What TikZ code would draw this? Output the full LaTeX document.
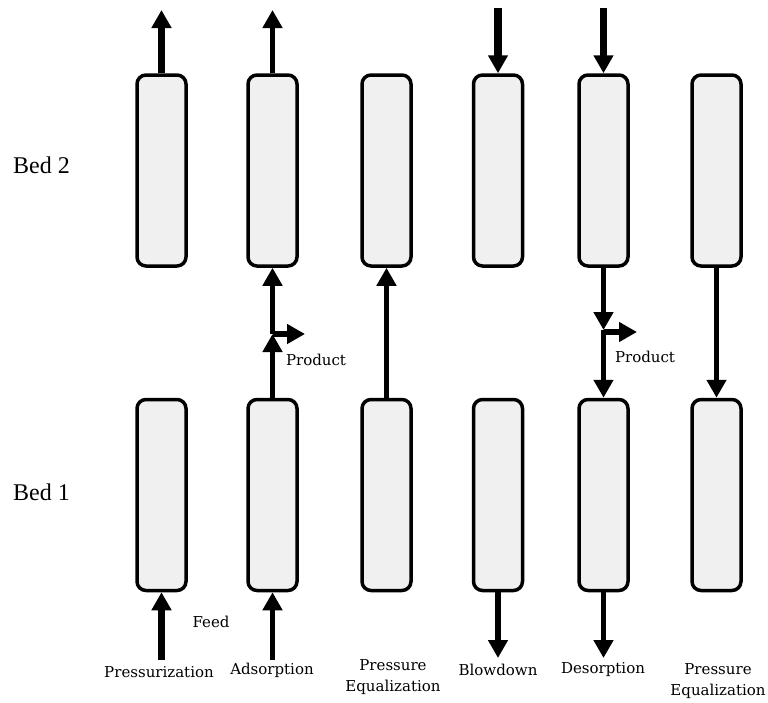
\documentclass[tikz,border=0pt]{standalone}
\usepackage{fontspec}
\setmainfont{Liberation Serif}
\newfontfamily\lblfont{DejaVu Serif}
\usetikzlibrary{arrows.meta}

\begin{document}
\begin{tikzpicture}[x=1pt,y=-1pt,
    bed node/.style={draw,line width=3.5pt,rounded corners=9pt,fill=black!6,minimum width=49pt,minimum height=191pt,inner sep=0pt},
    flow/.style={line width=5.5pt,-{Triangle[width=19pt,length=18pt]}},
    main flow/.style={flow,line width=7.5pt},
    stage label/.style={font=\lblfont\fontsize{15}{21}\selectfont,align=center,inner sep=0pt},
    bed label/.style={font=\fontsize{24}{28}\selectfont,anchor=west,inner sep=0pt}]
    \useasboundingbox (0,0) rectangle (768,702);

    % bed 2 (top row) and bed 1 (bottom row)
    \node[bed node] (t1) at (161.5,170.5) {};
    \node[bed node] (t2) at (272.5,170.5) {};
    \node[bed node] (t3) at (386.5,170.5) {};
    \node[bed node] (t4) at (498,170.5) {};
    \node[bed node] (t5) at (603.5,170.5) {};
    \node[bed node] (t6) at (716.5,170.5) {};
    \node[bed node] (b1) at (161.5,495) {};
    \node[bed node] (b2) at (272.5,495) {};
    \node[bed node] (b3) at (386.5,495) {};
    \node[bed node] (b4) at (498,495) {};
    \node[bed node] (b5) at (603.5,495) {};
    \node[bed node] (b6) at (716.5,495) {};

    \node[bed label] (bed2) at (13,165) {Bed 2};
    \node[bed label] (bed1) at (13,492) {Bed 1};

    % free ends
    \coordinate (o1) at (161.5,10);
    \coordinate (o2) at (272.5,10);
    \coordinate (i4) at (498,8);
    \coordinate (i5) at (603.5,8);
    \coordinate (m2) at (272.5,334);
    \coordinate (p2) at (305,334);
    \coordinate (m5) at (603.5,330);
    \coordinate (p5) at (637,332);
    \coordinate (f1) at (161.5,660);
    \coordinate (f2) at (272.5,660);
    \coordinate (w4) at (498,658);
    \coordinate (w5) at (603.5,658);

    \path
        (t1.north) edge[main flow] (o1)
        (t2.north) edge[flow] (o2)
        (i4) edge[main flow] (t4.north)
        (i5) edge[main flow] (t5.north)
        (b2.north) edge[flow] (m2)
        (m2) edge[flow] (t2.south)
        (m2) edge[flow] (p2)
        (b3.north) edge[flow] (t3.south)
        (t5.south) edge[flow] (m5)
        (m5) edge[flow] (b5.north)
        (603.5,332) edge[flow] (p5)
        (t6.south) edge[flow] (b6.north)
        (f1) edge[main flow] (b1.south)
        (f2) edge[flow] (b2.south)
        (b4.south) edge[flow] (w4)
        (b5.south) edge[flow] (w5)
        ;

    \node[stage label] (prod2) at (316,360) {Product};
    \node[stage label] (prod5) at (645,357) {Product};
    \node[stage label] (feed) at (211,622) {Feed};

    \node[stage label] (s1) at (159,672) {Pressurization};
    \node[stage label] (s2) at (272,670) {Adsorption};
    \node[stage label] (s3) at (393,677) {Pressure\\Equalization};
    \node[stage label] (s4) at (498,670) {Blowdown};
    \node[stage label] (s5) at (603,670) {Desorption};
    \node[stage label] (s6) at (718,681) {Pressure\\Equalization};
\end{tikzpicture}
\end{document}
